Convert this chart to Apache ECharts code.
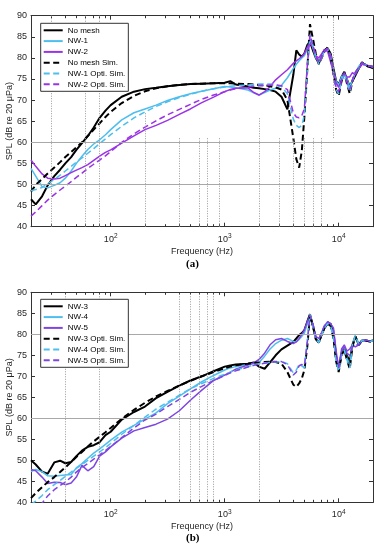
<!DOCTYPE html>
<html><head><meta charset="utf-8">
<script src="https://cdn.jsdelivr.net/npm/echarts@6/dist/echarts.min.js"></script>
<style>html,body{margin:0;padding:0;background:#fff}#c{width:383px;height:550px}</style>
</head><body><div id="c"></div>
<script>
// ---------- data ----------
const freq = [20,22,25,28,32,36,40,45,50,56, 63,71,80,90,100,125,160,200,250,315,
  400,500,630,800,1000,1120,1250,1600,1800,2000, 2240,2500,2800,3150,3550,4000,4250,4500,4750,5000,
  5300,5600,6000,6300,6700,7100,7500,8000,8500,9000, 9500,10000,10600,11200,11800,12500,13200,14000,15000,16000,
  17000,18000,19000,20000];

// panel (a)
const noMesh = [46.5,45.3,47.2,49.8,52,53.5,55,56.5,58.2,59.8, 61.5,63.5,65.8,67.5,68.8,70.8,72,72.6,72.9,73.3,
  73.6,73.8,73.9,74,74.1,74.5,73.7,73.2,72.9,72.8, 72.6,72.4,72,70.8,67.8,76,81.8,80.8,80.3,81,
  83,83.8,81.5,80,78.7,80.5,81.8,82.3,81,77.5, 74.5,73.6,75.5,76.7,75,73.2,74.5,75.8,77.5,78.7,
  78.5,78,77.8,77.5];
const nw1 = [53.8,52,49.5,49.2,49.8,50.4,51.5,53.2,55,56.7, 58.3,59.6,60.6,61.8,63,65.3,67,67.9,68.8,69.9,
  70.8,71.5,72.1,72.7,73.2,73.1,72.9,72.4,71.7,71.2, 71.8,72.4,72.8,73.5,75.3,77.5,78.5,79.3,80,80.5,
  82,84.5,82,80,79,80.5,81.5,82.2,80.5,77, 74.5,73.5,75.5,76.5,75,73,74.8,76.5,78,78.8,
  78.5,78.2,78,78];
const nw2 = [55.8,54.3,52.5,51.5,51.3,51.5,52.1,52.8,53.4,54, 54.7,55.7,56.7,57.6,58.2,59.8,61.5,63,64,65.2,
  66.6,67.9,69.4,70.7,72,72.5,72.8,72.9,71.8,71.2, 72,73.2,74.8,76,77.2,78.7,79.3,79.8,80.3,81,
  82.5,83.5,82.5,80.5,80,81,82,81.5,79,76.5, 74,73,74.5,76,75.5,75.5,76.5,76,77.5,78.5,
  78.3,78.2,78,78];
const noMeshSim = [48.3,49.9,51.3,52.6,54,55.3,56.5,57.7,58.8,60, 61.5,63,64.5,66,67.2,69.3,71,72.1,72.8,73.3,
  73.6,73.8,73.9,74,74,74,73.9,73.8,73.7,73.6, 73.5,73.3,73,72.5,70,61,56,54,58,66,
  77,88,84,81,78.5,80,81.5,82.5,80.5,76, 72.5,71,74.5,76.5,74,71.5,74.5,76.5,77.5,79,
  78.3,78,78,77.8];
const nw1Sim = [48.5,48.8,49.3,50.2,51.2,52.2,53.2,54.3,55.3,56.3, 57.4,58.5,59.7,60.8,61.8,63.8,65.8,67.2,68.5,69.6,
  70.6,71.4,72.1,72.7,73.1,73.3,73.4,73.6,73.7,73.8, 73.8,73.8,73.6,73.2,71.5,65.5,64,63.5,64,66.5,
  77,85.5,82.5,80.5,78.5,80,81.5,82.3,80.5,76, 72.5,71.5,74.5,76.5,74,72,74.5,76.5,77.5,78.8,
  78.3,78,78,77.8];
const nw2Sim = [42.5,43.5,45,46.3,47.6,48.7,49.6,50.7,51.7,52.7, 53.8,54.8,55.8,56.8,57.8,60,62,63.6,65.1,66.5,
  67.8,69,70.2,71.2,72,72.4,72.7,73.1,73.3,73.4, 73.5,73.6,73.6,73.4,72.5,67,66,65.8,66.3,68,
  78,85.5,82.5,80.5,78.8,80.2,81.5,82.2,80.5,76.3, 73,72,74.8,76.5,74.3,72.5,74.8,76.5,77.7,78.8,
  78.3,78.1,78,77.9];

// panel (b)
const nw3 = [50,49,47.3,46.8,49.5,49.9,49.3,49.6,51,52.3, 53.2,53.6,54.3,56,56.8,59.7,61.5,62.8,64.8,66.3,
  67.8,69,70,71.2,72.3,72.6,72.8,73,73.3,72.3, 71.8,73.3,75,76.4,77.3,78.2,79,79.8,80.3,81,
  83,84.8,81.5,79,78,80,81.5,82.5,82.5,80, 74.5,71.5,75.5,76.5,75,73.5,77.5,79.5,77.5,78.5,
  78.6,78.4,78.3,78.6];
const nw4 = [47.3,47.8,47.3,46.3,46.2,46.4,46.5,46.6,48.2,49.2, 50.5,51.7,52.7,53.8,54.8,56.7,58.3,59.8,61.3,63.5,
  65.3,67,68.7,70.2,71.5,72,72.3,72.8,73,73.3, 74.8,76.5,77.8,78.6,79,78.3,78.2,78.8,79.5,80.3,
  82.5,84.5,81.5,79,78.2,80,81.8,82.8,82.3,79.5, 74,71.5,75.5,76.3,74.5,72.5,77.5,79.5,77.8,78.5,
  78.6,78.5,78.3,78.6];
const nw5 = [47.8,47.5,46,44.5,44.8,44.7,44.2,44.6,46,48.8, 47.5,48.5,51,52,53.2,55.3,57,57.8,58.6,59.8,
  61.8,64.3,66.7,69,70.3,71,71.7,72.7,73.2,74, 75.5,77.5,78.7,79,78.3,77.8,78.2,79,80,81,
  83,84.5,82,79.5,79,80.5,82,83,82.5,81.5, 76,72,76.5,77.5,76,76.5,77.5,77,77.5,78.5,
  78.6,78.5,78.3,78.5];
const nw3Sim = [41,42.2,43.6,44.8,46,47.2,48.3,49.6,50.8,52, 53.3,54.5,55.6,56.7,57.7,59.9,62,63.7,65.2,66.5,
  67.8,68.9,70,71,71.9,72.3,72.6,73,73.2,73.3, 73.4,73.5,73.4,73,71,68,67.5,68.3,69.5,71.5,
  77,84.5,81.5,78.8,78,80,81.5,82.5,82,79, 73.5,71,75,76.3,74,71.8,77,79.5,77.5,78.5,
  78.5,78.4,78.3,78.5];
const nw4Sim = [39.5,40.3,41.6,43,44.2,45.2,46.2,47.2,48.1,49, 50,51,52,53,54,56.2,58.3,60.3,62.2,63.8,
  65.5,67,68.3,69.5,70.5,71,71.5,72.3,72.7,73, 73.2,73.3,73.4,73.5,73,70.8,71.5,72.8,72.5,72,
  78,84.8,81.5,78.8,78,80,81.5,82.5,82,79, 73.5,71.2,75,76.3,74,72,77.5,79.8,77.5,78.5,
  78.5,78.4,78.3,78.5];
const nw5Sim = [38.5,39.1,39.8,41.5,43,44,44.8,46,47.2,48.3, 49.2,50.3,51.3,52.3,53.3,55.4,57.7,59.6,61,62.8,
  64.5,66.2,67.6,69,70.2,70.8,71.3,72.2,72.6,72.9, 73.1,73.3,73.5,73.5,72.8,70.3,71,72.5,72.8,72.5,
  78,84.5,82,79.3,78.8,80.5,82,83,82.5,81, 75.5,72,76,77,75.5,75,77,77.5,77.5,78.5,
  78.6,78.5,78.3,78.5];

const namesA = ['No mesh','NW-1','NW-2','No mesh Sim.','NW-1 Opti. Sim.','NW-2 Opti. Sim.'];
const namesB = ['NW-3','NW-4','NW-5','NW-3 Opti. Sim.','NW-4 Opti. Sim.','NW-5 Opti. Sim.'];
const xMajor = [100, 1000, 10000];
const xMajorLabels = ['2','3','4'];
const xMinor = [20,30,40,50,60,70,80,90,200,300,400,500,600,700,800,900,2000,3000,4000,5000,6000,7000,8000,9000,20000];
const hGridA = [50, 60];
const hGridB = [60, 80];
const vDotA = [[30,40,90],[60,40,90],[80,40,90],[200,40,67],[400,40,61],[600,40,61],[700,40,61],[900,40,61],
  [2000,40,66],[3000,40,61],[4000,40,61],[5000,40,61],[6000,40,61],[7000,40,61],[9000,61,90]];
const vDotB = [[40,40,90],[80,40,90],[400,40,90],[500,40,90],[600,40,90],[700,40,90],[800,40,90],[2000,40,90]];

// ---------- chart ----------
const FONT = 'Liberation Sans';
const TXT = '#262626';
const AX = '#333';
const grids = [
  {left: 31, right: 10, top: 15.7, height: 211, containLabel:false, outerBoundsMode:'none'},
  {left: 31, right: 10, top: 292.3, height: 210, containLabel:false, outerBoundsMode:'none'}
];
const xAxes = [], yAxes = [];
grids.forEach((g, gi) => {
  const base = {type:'log', logBase:10, min:20, max:20000, gridIndex:gi, splitLine:{show:false}};
  xAxes.push(Object.assign({}, base, {
    position:'bottom',
    axisLine:{show:true, onZero:false, lineStyle:{color:AX, width:1}},
    axisTick:{show:true, inside:true, length:4, customValues:xMajor, lineStyle:{color:AX}},
    axisLabel:{show:true, customValues:xMajor, margin:6, color:TXT, fontFamily:FONT,
      formatter:(v)=>{const i=xMajor.indexOf(v); return i<0?'':'{b|10}{s|'+xMajorLabels[i]+'}';},
      rich:{b:{fontSize:9, fontFamily:FONT, color:TXT}, s:{fontSize:6.5, fontFamily:FONT, color:TXT, padding:[0,0,6,0]}}},
    name:'Frequency (Hz)', nameLocation:'middle', nameGap:20, nameMoveOverlap:false,
    nameTextStyle:{fontSize:9, fontFamily:FONT, color:TXT}
  }));
  xAxes.push(Object.assign({}, base, {
    position:'bottom', axisLine:{show:false},
    axisTick:{show:true, inside:true, length:2.5, customValues:xMinor, lineStyle:{color:AX}},
    axisLabel:{show:false}
  }));
  xAxes.push(Object.assign({}, base, {
    position:'top', axisLine:{show:true, onZero:false, lineStyle:{color:AX, width:1}},
    axisTick:{show:true, inside:true, length:4, customValues:xMajor, lineStyle:{color:AX}},
    axisLabel:{show:false}
  }));
  xAxes.push(Object.assign({}, base, {
    position:'top', axisLine:{show:false},
    axisTick:{show:true, inside:true, length:2.5, customValues:xMinor, lineStyle:{color:AX}},
    axisLabel:{show:false}
  }));
  const ybase = {type:'value', min:40, max:90, interval:5, gridIndex:gi, splitLine:{show:false}};
  yAxes.push(Object.assign({}, ybase, {
    position:'left', axisLine:{show:true, onZero:false, lineStyle:{color:AX, width:1}},
    axisTick:{show:true, inside:true, length:4, lineStyle:{color:AX}},
    axisLabel:{fontSize:9, fontFamily:FONT, color:TXT, margin:4},
    name:'SPL (dB re 20 \u03bcPa)', nameLocation:'middle', nameGap:17, nameRotate:90, nameMoveOverlap:false,
    nameTextStyle:{fontSize:9, fontFamily:FONT, color:TXT}
  }));
  yAxes.push(Object.assign({}, ybase, {
    position:'right', axisLine:{show:true, onZero:false, lineStyle:{color:AX, width:1}},
    axisTick:{show:true, inside:true, length:4, lineStyle:{color:AX}},
    axisLabel:{show:false}
  }));
});

function gridSeries(gi, hLines, vLines) {
  const data = [];
  hLines.forEach(v => data.push({yAxis:v, lineStyle:{type:'solid', color:'#a8a8a8', width:1}}));
  vLines.forEach(d => data.push([{coord:[d[0], d[1]], lineStyle:{type:[1,1.5], color:'#9a9a9a', width:1}}, {coord:[d[0], d[2]]}]));
  return {type:'line', name:'grid'+gi, data:[], xAxisIndex:gi*4, yAxisIndex:gi*2, silent:true, z:1,
    markLine:{silent:true, symbol:['none','none'], label:{show:false}, animation:false, data:data}};
}

function mk(name, arr, gi, color, width, dashed, z) {
  return {type:'line', name, xAxisIndex:gi*4, yAxisIndex:gi*2, data:freq.map((f,i)=>[f, arr[i]]),
    showSymbol:false, symbol:'none', smooth:false, animation:false, z:z,
    lineStyle:{color, width, type: dashed ? [6,3.5] : 'solid'}, itemStyle:{color}};
}

const BLUE = '#4DBEEE', PURA = '#9a33e6', PURB = '#7e45e0';
const series = [
  gridSeries(0, hGridA, vDotA), gridSeries(1, hGridB, vDotB),
  mk(namesA[0], noMesh, 0, '#000', 2, false, 3),
  mk(namesA[1], nw1, 0, BLUE, 1.5, false, 3),
  mk(namesA[2], nw2, 0, PURA, 1.5, false, 3),
  mk(namesA[3], noMeshSim, 0, '#000', 2, true, 4),
  mk(namesA[4], nw1Sim, 0, BLUE, 1.5, true, 4),
  mk(namesA[5], nw2Sim, 0, PURA, 1.5, true, 4),
  mk(namesB[0], nw3, 1, '#000', 2, false, 3),
  mk(namesB[1], nw4, 1, BLUE, 1.5, false, 3),
  mk(namesB[2], nw5, 1, PURB, 1.5, false, 3),
  mk(namesB[3], nw3Sim, 1, '#000', 2, true, 4),
  mk(namesB[4], nw4Sim, 1, BLUE, 1.5, true, 4),
  mk(namesB[5], nw5Sim, 1, PURB, 1.5, true, 4)
];

const legendBase = {orient:'vertical', left:40.7, itemWidth:19, itemHeight:9, itemGap:2.8,
  padding:[3,3,3,2], borderColor:'#333', borderWidth:1, backgroundColor:'#fff', selectedMode:false,
  itemStyle:{opacity:0},
  textStyle:{fontSize:8, fontFamily:FONT, color:'#000'}, z:10};

const chart = echarts.init(document.getElementById('c'), null, {renderer:'canvas'});
chart.setOption({
  animation:false,
  backgroundColor:'#fff',
  grid: grids,
  xAxis: xAxes,
  yAxis: yAxes,
  legend: [
    Object.assign({}, legendBase, {top:23.3, data:namesA}),
    Object.assign({}, legendBase, {top:299.3, data:namesB})
  ],
  graphic: [
    {type:'text', left:186, top:259, style:{text:'(a)', font:'bold 11px "Liberation Serif"', fill:'#000'}},
    {type:'text', left:186, top:533, style:{text:'(b)', font:'bold 11px "Liberation Serif"', fill:'#000'}}
  ],
  series: series
});
</script></body></html>
